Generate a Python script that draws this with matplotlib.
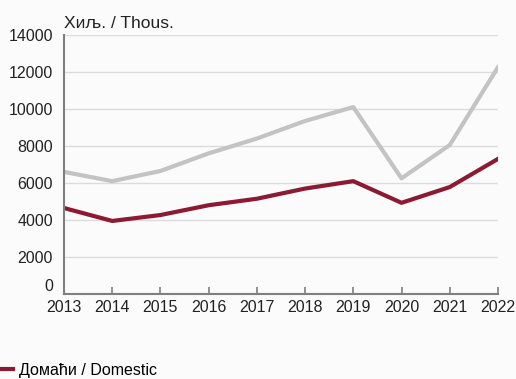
import matplotlib.pyplot as plt
from matplotlib.lines import Line2D

# Број туриста по годинама (хиљаде)
years = [2013, 2014, 2015, 2016, 2017, 2018, 2019, 2020, 2021, 2022]
total = [6600, 6100, 6650, 7600, 8400, 9350, 10100, 6250, 8050, 12250]
domestic = [4650, 3950, 4270, 4800, 5150, 5700, 6100, 4930, 5780, 7300]

plt.rcParams['font.family'] = ['Liberation Sans', 'DejaVu Sans']

fig = plt.figure(figsize=(5.16, 3.79), dpi=100)
fig.patch.set_facecolor('#fbfbfb')
ax = fig.add_axes([0.124, 0.224, 0.841, 0.684])
ax.set_facecolor('#fbfbfb')

ax.plot(years, total, color='#c3c3c3', lw=3, solid_joinstyle='round')
ax.plot(years, domestic, color='#8c1a33', lw=3, solid_joinstyle='round')

ax.set_xlim(2013, 2022)
ax.set_ylim(0, 14000)
ax.set_xticks(years)
ax.set_yticks(range(0, 14001, 2000))
ax.grid(axis='y', color='#dcdcdc', lw=1)
ax.set_axisbelow(True)

for s in ['top', 'right']:
    ax.spines[s].set_visible(False)
for s in ['left', 'bottom']:
    ax.spines[s].set_color('#7f7f7f')
    ax.spines[s].set_linewidth(1.5)

ax.tick_params(axis='x', direction='in', length=5, color='#7f7f7f', width=1.2,
               labelsize=11.5, pad=4, labelcolor='#222222')
ax.tick_params(axis='y', length=0, labelsize=11.5, pad=8, labelcolor='#222222')
for lbl in ax.get_yticklabels():
    if lbl.get_text() == '0':
        lbl.set_va('bottom')

ax.text(0, 1.015, 'Хиљ. / Thous.', transform=ax.transAxes, fontsize=12.5,
        color='#222222', ha='left', va='bottom')

handle = Line2D([], [], color='#8c1a33', lw=3)
fig.legend([handle], ['Домаћи / Domestic'], loc='lower left',
           bbox_to_anchor=(-0.04, -0.035), frameon=False, fontsize=11.5,
           handlelength=1.2, handletextpad=0.4)

fig.savefig('out.png', dpi=100, facecolor=fig.get_facecolor())
